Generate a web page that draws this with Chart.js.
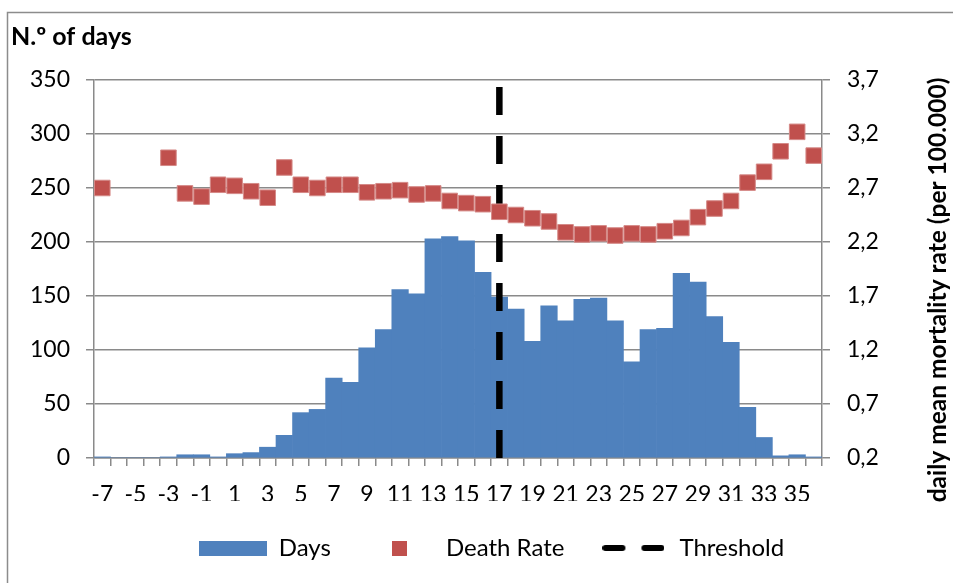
<!DOCTYPE html>
<html>
<head>
<meta charset="utf-8">
<script src="https://cdn.jsdelivr.net/npm/chart.js@4.4.0/dist/chart.umd.min.js"></script>
<style>
  html, body { margin: 0; padding: 0; background: #fff; }
  canvas { display: block; }
</style>
</head>
<body>
<canvas id="c" width="953" height="583"></canvas>
<script>
// ---- data ----
const categories = ['-7','-6','-5','-4','-3','-2','-1','0','1','2','3','4','5','6','7','8','9','10','11','12','13','14','15','16','17','18','19','20','21','22','23','24','25','26','27','28','29','30','31','32','33','34','35','36'];
const daysValues = [1,0,0,0,1,3,3,1,4,5,10,21,42,45,74,70,102,119,156,152,203,205,201,172,149,138,108,141,127,147,148,127,89,119,120,171,163,131,107,47,19,2,3,1];
const deathRateValues = [2.70,null,null,null,2.98,2.65,2.62,2.73,2.72,2.67,2.61,2.89,2.73,2.70,2.73,2.73,2.66,2.67,2.68,2.64,2.65,2.58,2.56,2.55,2.48,2.45,2.42,2.39,2.29,2.27,2.28,2.26,2.28,2.27,2.30,2.33,2.43,2.51,2.58,2.75,2.85,3.04,3.22,3.00];
const thresholdCategory = '17';
const thresholdRange = [0, 344];
const leftTicks = { min: 0, max: 350, step: 50 };
const rightTicks = { min: 0.2, max: 3.7, step: 0.5 };
const seriesNames = ['Days', 'Death Rate', 'Threshold'];
const leftTitle = 'N.º of days';
const rightTitle = 'daily mean mortality rate (per 100.000)';

const BLUE = '#4F81BD', RED = '#C0504D', GRID = '#8a8a8a';
Chart.defaults.font.family = 'Lato, "Open Sans", sans-serif';
Chart.defaults.color = '#000';

function makeIcon(w, h, draw) {
  const cv = document.createElement('canvas');
  cv.width = w; cv.height = h;
  draw(cv.getContext('2d'));
  return cv;
}
const iconDays = makeIcon(68, 15, g => { g.fillStyle = BLUE; g.fillRect(0, 0, 68, 15); });
const iconRate = makeIcon(15, 15, g => { g.fillStyle = RED; g.fillRect(0, 0, 15, 15); });
const iconThr = makeIcon(62, 6, g => {
  g.fillStyle = '#000';
  g.beginPath(); g.roundRect(0, 0, 23, 6, 3); g.fill();
  g.beginPath(); g.roundRect(39, 0, 23, 6, 3); g.fill();
});
const icons = [iconDays, iconRate, iconThr];

const framePlugin = {
  id: 'frame',
  beforeDraw(chart) {
    const g = chart.ctx;
    g.save();
    g.strokeStyle = '#8c8c8c';
    g.lineWidth = 1.5;
    g.strokeRect(7.5, 12.5, 1000, 1000);
    g.restore();
  },
  afterLayout(chart) {
    if (chart.legend) { chart.legend.left += 9.5; chart.legend.right += 9.5; }
  },
  afterDraw(chart) {
    const g = chart.ctx;
    g.save();
    g.translate(938, 290);
    g.rotate(-Math.PI / 2);
    g.font = 'bold 24.5px Lato, "Open Sans", sans-serif';
    g.fillStyle = '#000';
    g.textAlign = 'center';
    g.textBaseline = 'middle';
    g.fillText(rightTitle, 0, 0);
    g.restore();
  }
};

new Chart(document.getElementById('c'), {
  type: 'bar',
  data: {
    labels: categories,
    datasets: [
      {
        type: 'bar', label: seriesNames[0], data: daysValues, yAxisID: 'y',
        backgroundColor: BLUE, borderWidth: 0,
        barPercentage: 1.0, categoryPercentage: 1.0, order: 3
      },
      {
        type: 'line', label: seriesNames[1], data: deathRateValues, yAxisID: 'y1',
        showLine: false, pointStyle: 'rect', pointRadius: 11, pointHoverRadius: 11,
        pointBackgroundColor: RED, pointBorderColor: '#D58A88', pointBorderWidth: 1, order: 1
      },
      {
        type: 'line', label: seriesNames[2], yAxisID: 'y',
        data: thresholdRange.map(v => ({ x: thresholdCategory, y: v })),
        borderColor: '#000', borderWidth: 6.5, borderDash: [28, 21], borderCapStyle: 'butt',
        pointRadius: 0, pointHoverRadius: 0, fill: false, order: 2
      }
    ]
  },
  options: {
    responsive: false,
    animation: false,
    layout: { padding: { left: 11, right: 0, top: 0, bottom: 13 } },
    plugins: {
      tooltip: { enabled: false },
      title: {
        display: true, text: leftTitle, align: 'start',
        font: { size: 25, weight: 'bold' }, color: '#000',
        padding: { top: 22, bottom: 28 }
      },
      legend: {
        position: 'bottom',
        labels: {
          usePointStyle: true, pointStyleWidth: 68, padding: 35,
          font: { size: 24 }, color: '#000',
          generateLabels: (chart) => chart.data.datasets.map((ds, i) => ({
            text: ds.label, pointStyle: icons[i], datasetIndex: i,
            hidden: false, lineWidth: 0, fillStyle: 'transparent', strokeStyle: 'transparent'
          }))
        }
      }
    },
    scales: {
      x: {
        type: 'category',
        grid: { display: true, drawOnChartArea: false, drawTicks: true, tickLength: 8, color: GRID, lineWidth: 1.5, offset: true },
        border: { display: true, color: GRID, width: 1.5 },
        ticks: {
          autoSkip: false, maxRotation: 0, padding: 15, font: { size: 23 }, color: '#000',
          callback: function (v, i) { return i % 2 === 0 ? this.getLabelForValue(v) : ''; }
        },
        afterFit: (s) => { s.height = 43; }
      },
      y: {
        position: 'left', min: leftTicks.min, max: leftTicks.max,
        ticks: { stepSize: leftTicks.step, padding: 16, font: { size: 23 }, color: '#000' },
        grid: { color: GRID, lineWidth: 1.5, tickLength: 8 },
        border: { display: true, color: GRID, width: 1.5 },
        afterFit: (s) => { s.width = 83; }
      },
      y1: {
        position: 'right', min: rightTicks.min, max: rightTicks.max,
        ticks: {
          stepSize: rightTicks.step, padding: 17, font: { size: 23 }, color: '#000',
          callback: (v) => v.toFixed(1).replace('.', ',')
        },
        grid: { drawOnChartArea: false, color: GRID, lineWidth: 1.5, tickLength: 8 },
        border: { display: true, color: GRID, width: 1.5 },
        afterFit: (s) => { s.width = 131; }
      }
    }
  },
  plugins: [framePlugin]
});
</script>
</body>
</html>
